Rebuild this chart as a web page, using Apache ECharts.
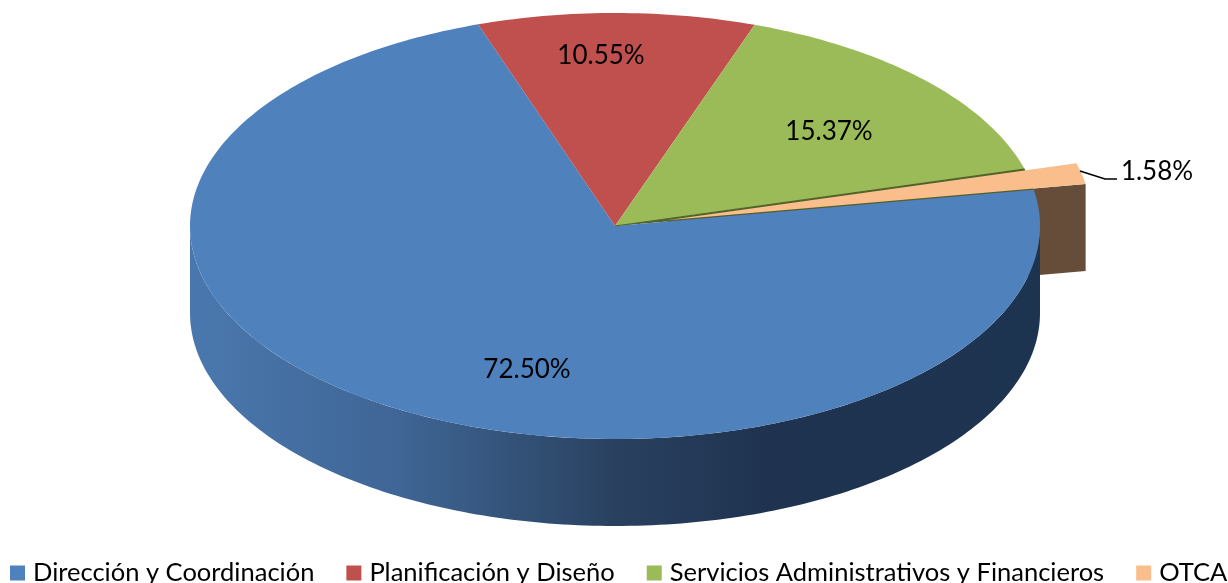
<!DOCTYPE html>
<html>
<head>
<meta charset="utf-8">
<style>
  html, body { margin: 0; padding: 0; background: #fff; overflow: hidden; }
  #chart { width: 1228px; height: 583px; }
</style>
<script src="https://cdn.jsdelivr.net/npm/echarts@6/dist/echarts.min.js"></script>
</head>
<body>
<div id="chart"></div>
<script>
const categories = ["Dirección y Coordinación", "Planificación y Diseño", "Servicios Administrativos y Financieros", "OTCA"];
const values = [72.5, 10.55, 15.37, 1.58];
const colors = ["#4f81bd", "#c0504d", "#9bbb59", "#f9be8c"];

// pie geometry, pixels
const cx = 615;
const cy = 226;
const rx = 425;
const ry = 213;
const depth = 87;
const firstAngle = 80.2; // clockwise from the top
const explode = [0, 0, 0, 0.125];
const labelPos = [[527, 370], [601, 56], [829, 132], [1157, 172]];
const fontName = "Lato, Carlito, sans-serif";

const total = values.reduce((a, b) => a + b, 0);

function pt(deg, ox, oy, down) {
  const r = (deg * Math.PI) / 180;
  return [cx + ox + rx * Math.sin(r), cy + oy - ry * Math.cos(r) + (down || 0)];
}

function arc(from, to, ox, oy, down) {
  const out = [];
  const steps = Math.max(2, Math.ceil(Math.abs(to - from)));
  for (let i = 0; i <= steps; i++) {
    out.push(pt(from + ((to - from) * i) / steps, ox, oy, down));
  }
  return out;
}

function sliceItem(index) {
  return function (params, api) {
    const value = api.value(0);
    let start = firstAngle;
    for (let i = 0; i < index; i++) start += (values[i] / total) * 360;
    // slices after the first wrap round past the top
    const end = start + (value / total) * 360;
    const mid = (start + end) / 2;
    const rad = (mid * Math.PI) / 180;
    const ox = explode[index] * rx * Math.sin(rad);
    const oy = -explode[index] * ry * Math.cos(rad);
    const apex = [cx + ox, cy + oy];
    const children = [];

    if (index === 0) {
      // outer wall, front half only
      const wallFrom = Math.max(start, 90);
      const wallTo = Math.min(end, 270);
      const wall = arc(wallFrom, wallTo, ox, oy, 0).concat(arc(wallTo, wallFrom, ox, oy, depth));
      children.push({
        type: "polygon",
        z2: 3,
        shape: { points: wall },
        style: {
          fill: {
            type: "linear",
            x: 0, y: 0, x2: 1, y2: 0,
            colorStops: [
              { offset: 0, color: "#4a78ae" },
              { offset: 0.25, color: "#3f6595" },
              { offset: 0.5, color: "#29415f" },
              { offset: 0.68, color: "#1f3350" },
              { offset: 1, color: "#1d3450" },
            ],
          },
        },
      });
    }
    if (index === 3) {
      // cut face of the pulled out slice
      const a = pt(end, ox, oy, 0);
      children.push({
        type: "polygon",
        z2: 1,
        shape: { points: [apex, a, pt(end, ox, oy, depth), [apex[0], apex[1] + depth]] },
        style: { fill: "#664d3a" },
      });
      children.push({
        type: "polygon",
        z2: 1,
        shape: { points: [[cx, cy], pt(start, 0, 0, 0), pt(end, 0, 0, 0)] },
        style: { fill: "#4f6228" },
      });
    }

    children.push({
      type: "polygon",
      z2: index === 3 ? 6 : 4,
      shape: { points: [apex].concat(arc(start, end, ox, oy, 0)) },
      style: { fill: colors[index] },
    });

    if (index === 2) {
      const edge = pt(end, 0, 0, 0);
      children.push({
        type: "line",
        z2: 5,
        shape: { x1: cx, y1: cy, x2: edge[0], y2: edge[1] },
        style: { stroke: "#4f6228", lineWidth: 1.2 },
      });
    }
    if (index === 3) {
      children.push({
        type: "polyline",
        z2: 7,
        shape: { points: [[1080, 171], [1105, 179], [1117, 179]] },
        style: { stroke: "#000", lineWidth: 1.6, fill: "none" },
      });
    }

    children.push({
      type: "text",
      z2: 8,
      x: labelPos[index][0],
      y: labelPos[index][1],
      style: {
        text: value.toFixed(2) + "%",
        fill: "#000",
        font: "26px " + fontName,
        align: "center",
        verticalAlign: "middle",
      },
    });

    return { type: "group", children: children };
  };
}

const chart = echarts.init(document.getElementById("chart"), null, { renderer: "canvas" });
chart.setOption({
  backgroundColor: "#fff",
  animation: false,
  legend: {
    data: categories,
    left: 10,
    top: 560,
    width: 1400,
    padding: 0,
    itemWidth: 15,
    itemHeight: 15,
    itemGap: 32,
    icon: "rect",
    textStyle: { color: "#000", fontSize: 25.5, fontFamily: fontName, padding: [0, 0, 0, 3] },
  },
  series: categories.map((name, i) => ({
    name: name,
    type: "custom",
    coordinateSystem: "none",
    silent: true,
    itemStyle: { color: colors[i] },
    renderItem: sliceItem(i),
    data: [[values[i]]],
  })),
});
</script>
</body>
</html>
